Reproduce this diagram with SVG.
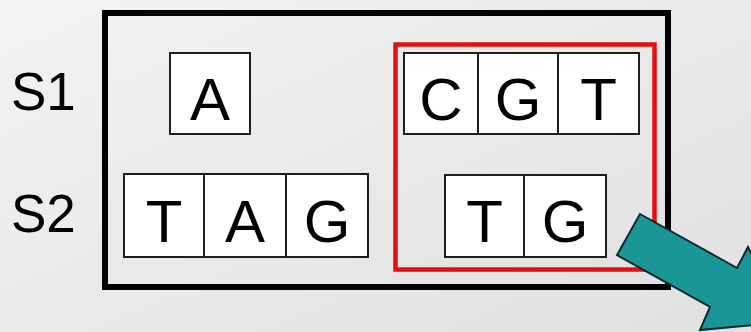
<svg xmlns="http://www.w3.org/2000/svg" width="751" height="332" viewBox="0 0 751 332">
<defs>
<linearGradient id="bg" x1="0" y1="0" x2="1" y2="1">
<stop offset="0" stop-color="#f3f3f3"/>
<stop offset="1" stop-color="#e0e0e0"/>
</linearGradient>
<style>
.cell{fill:#ffffff;stroke:#1e1e1e;stroke-width:2}
.lt{font-family:"Liberation Sans",Arial,sans-serif;font-size:60px;fill:#000;text-anchor:middle}
.lbl{font-family:"Liberation Sans",Arial,sans-serif;font-size:53px;fill:#000}
</style>
</defs>
<rect x="0" y="0" width="751" height="332" fill="url(#bg)"/>
<g id="outer-box"><rect x="105" y="13" width="563" height="274" fill="none" stroke="#000" stroke-width="6"/></g>
<g id="red-box"><rect x="395.5" y="44.5" width="259" height="225" fill="none" stroke="#e01010" stroke-width="4.5"/></g>
<g id="label-s1"><text class="lbl" x="11" y="110">S1</text></g>
<g id="label-s2"><text class="lbl" x="11" y="232">S2</text></g>
<g id="s1-A">
<rect class="cell" x="170" y="53" width="80" height="81"/>
<text class="lt" x="210" y="120">A</text>
</g>
<g id="s2-TAG">
<rect class="cell" x="124" y="174" width="80" height="83"/>
<rect class="cell" x="204" y="174" width="82" height="83"/>
<rect class="cell" x="286" y="174" width="82" height="83"/>
<text class="lt" x="164" y="242">T</text>
<text class="lt" x="245" y="242">A</text>
<text class="lt" x="327" y="242">G</text>
</g>
<g id="s1-CGT">
<rect class="cell" x="404" y="53" width="74" height="81"/>
<rect class="cell" x="478" y="53" width="80" height="81"/>
<rect class="cell" x="558" y="53" width="81" height="81"/>
<text class="lt" x="441" y="120">C</text>
<text class="lt" x="518" y="120">G</text>
<text class="lt" x="598.5" y="120">T</text>
</g>
<g id="s2-TG">
<rect class="cell" x="445" y="175" width="79" height="82"/>
<rect class="cell" x="524" y="175" width="82" height="82"/>
<text class="lt" x="484.5" y="242">T</text>
<text class="lt" x="565" y="242">G</text>
</g>
<g id="connectors">
<path d="M640,214 L737,268 L748,247 L785,322 L700,330 L710,307 L617,255 Z" fill="#1a9699" stroke="#0a2a2a" stroke-width="2" stroke-linejoin="miter"/>
</g>
</svg>
